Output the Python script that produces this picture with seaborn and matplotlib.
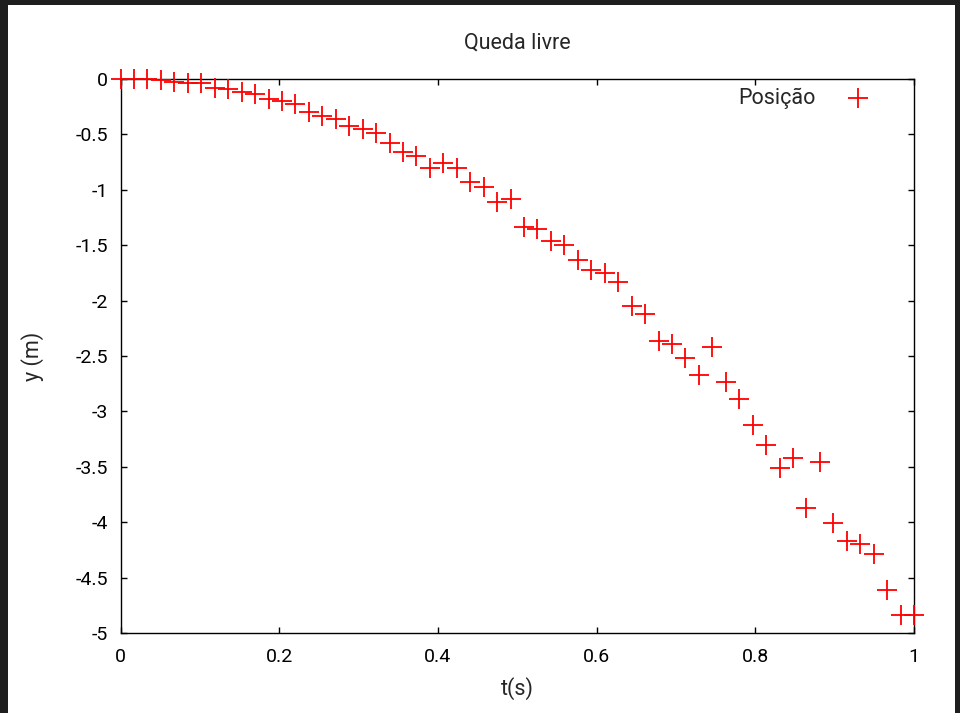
import numpy as np
import matplotlib
matplotlib.use("Agg")
import matplotlib.pyplot as plt
import seaborn as sns
from matplotlib.patches import Rectangle

# Dados: 60 amostras de t entre 0 e 1 s
tempo = np.linspace(0, 1, 60)
posicao = [0.0, 0.0, 0.0, -0.012, -0.024, -0.039, -0.039, -0.079, -0.093, -0.12,
           -0.135, -0.178, -0.199, -0.226, -0.295, -0.331, -0.361, -0.421, -0.454, -0.485,
           -0.575, -0.656, -0.695, -0.80, -0.755, -0.80, -0.927, -0.975, -1.113, -1.083,
           -1.338, -1.351, -1.459, -1.498, -1.634, -1.724, -1.754, -1.829, -2.046, -2.124,
           -2.365, -2.392, -2.514, -2.671, -2.421, -2.732, -2.891, -3.127, -3.303, -3.514,
           -3.418, -3.875, -3.459, -4.010, -4.170, -4.200, -4.290, -4.612, -4.838, -4.838]
x_ticks = [0, 0.2, 0.4, 0.6, 0.8, 1]
y_ticks = [0, -0.5, -1, -1.5, -2, -2.5, -3, -3.5, -4, -4.5, -5]

sns.set_style("ticks")
plt.rcParams["font.family"] = ["Roboto", "DejaVu Sans"]
plt.rcParams["axes.unicode_minus"] = False

fig = plt.figure(figsize=(9.6, 7.13), dpi=100, facecolor="#1e1e1e")
# Moldura escura da captura de tela
fig.add_artist(Rectangle((8 / 960, 0), 947 / 960, 708 / 713, transform=fig.transFigure,
                         facecolor="white", edgecolor="none", zorder=-10))
ax = fig.add_axes([0.1256, 0.1122, 0.8265, 0.777])

sns.scatterplot(x=tempo, y=posicao, ax=ax, marker="+", color="red", s=190,
                linewidth=1.3, label="Posição", clip_on=False, zorder=5)

ax.set_xlim(0, 1)
ax.set_ylim(-5, 0)
ax.set_xticks(x_ticks, labels=[f"{v:g}" for v in x_ticks])
ax.set_yticks(y_ticks, labels=[f"{v:g}" for v in y_ticks])
ax.tick_params(direction="in", top=True, right=True, length=4.5, width=1,
               labelsize=14, colors="black")
ax.tick_params(axis="x", pad=11)
ax.tick_params(axis="y", pad=9)
for s in ax.spines.values():
    s.set_color("black")
    s.set_linewidth(1.0)

ax.set_title("Queda livre", fontsize=15.5, pad=22)
ax.set_xlabel("t(s)", fontsize=15.5, labelpad=8)
ax.set_ylabel("y (m)", fontsize=15.5, labelpad=23)

ax.legend(loc="upper right", bbox_to_anchor=(0.975, 1.012), frameon=False,
          markerfirst=False, fontsize=15.5, handletextpad=0.95, borderaxespad=0.3)

fig.savefig("out.png", dpi=100, facecolor=fig.get_facecolor())
